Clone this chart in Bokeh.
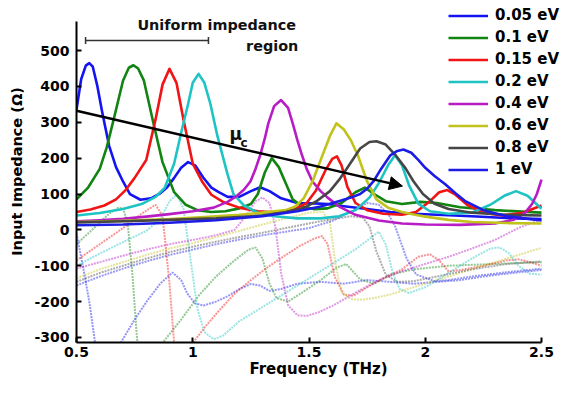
from bokeh.plotting import figure
from bokeh.models import Range1d, Legend, LegendItem, Label, Arrow, NormalHead, FixedTicker
from bokeh.embed import file_html
from bokeh.resources import INLINE

FONT = "DejaVu Sans"

# ---------------- data ----------------
series_labels = ["0.05 eV", "0.1 eV", "0.15 eV", "0.2 eV", "0.4 eV", "0.6 eV", "0.8 eV", "1 eV"]
series_colors = ["#1414f0", "#128412", "#f01414", "#1ec4c4", "#b81cc4", "#c2c21c", "#464646", "#1c1ce6"]

# Real part (solid lines)
f_re_005 = [0.5, 0.52, 0.54, 0.555, 0.57, 0.59, 0.61, 0.64, 0.67, 0.70, 0.73, 0.775, 0.82, 0.86, 0.89, 0.92, 0.95, 0.98, 1.01, 1.045,
            1.08, 1.11, 1.15, 1.2, 1.25, 1.29, 1.33, 1.38, 1.45, 1.52, 1.58, 1.65, 1.75, 1.85, 1.95, 2.05, 2.2, 2.35, 2.5]
re_005 = [335, 420, 458, 465, 455, 400, 330, 235, 175, 135, 100, 84, 88, 102, 119, 145, 173, 189, 180, 146,
          118, 106, 92, 92, 108, 119, 108, 88, 75, 74, 72, 66, 58, 50, 45, 42, 38, 33, 30]

f_re_01 = [0.5, 0.55, 0.6, 0.63, 0.66, 0.7, 0.725, 0.745, 0.765, 0.79, 0.83, 0.87, 0.92, 0.97, 1.02, 1.08, 1.14, 1.2, 1.25, 1.28,
           1.31, 1.34, 1.37, 1.4, 1.43, 1.47, 1.52, 1.58, 1.64, 1.7, 1.74, 1.78, 1.83, 1.9, 1.98, 2.05, 2.15, 2.3, 2.5]
re_01 = [85, 118, 170, 230, 308, 416, 452, 459, 450, 416, 300, 189, 105, 70, 55, 50, 52, 60, 72, 100,
         160, 200, 175, 130, 85, 65, 58, 60, 75, 105, 118, 100, 80, 72, 78, 75, 63, 55, 48]

f_re_015 = [0.5, 0.56, 0.62, 0.67, 0.71, 0.75, 0.8, 0.84, 0.87, 0.9, 0.93, 0.96, 1.0, 1.04, 1.08, 1.13, 1.2, 1.28, 1.36, 1.43,
            1.49, 1.53, 1.57, 1.6, 1.62, 1.64, 1.665, 1.7, 1.75, 1.82, 1.9, 1.96, 2.02, 2.06, 2.095, 2.13, 2.18, 2.25, 2.33, 2.42, 2.5]
re_015 = [50, 57, 68, 85, 110, 145, 195, 308, 405, 449, 410, 308, 185, 135, 98, 78, 62, 52, 48, 55,
          75, 110, 165, 198, 205, 180, 120, 75, 55, 45, 42, 50, 80, 105, 111, 98, 70, 48, 40, 48, 68]

f_re_02 = [0.5, 0.6, 0.7, 0.78, 0.84, 0.88, 0.92, 0.95, 0.98, 1.0, 1.025, 1.05, 1.076, 1.106, 1.15, 1.175, 1.22, 1.28, 1.35, 1.45,
           1.55, 1.63, 1.7, 1.76, 1.8, 1.84, 1.87, 1.9, 1.93, 1.97, 2.02, 2.1, 2.2, 2.28, 2.34, 2.39, 2.44, 2.5]
re_02 = [40, 47, 58, 72, 92, 118, 185, 270, 351, 410, 435, 410, 351, 262, 154, 100, 68, 48, 38, 32,
         32, 38, 55, 90, 130, 180, 208, 180, 125, 73, 52, 45, 48, 70, 95, 108, 95, 59]

f_re_04 = [0.5, 0.6, 0.7, 0.8, 0.9, 1.0, 1.09, 1.15, 1.19, 1.22, 1.248, 1.27, 1.29, 1.31, 1.325, 1.35, 1.38, 1.41, 1.43, 1.45,
           1.47, 1.49, 1.515, 1.55, 1.58, 1.63, 1.7, 1.8, 1.9, 2.0, 2.15, 2.3, 2.38, 2.43, 2.46, 2.48, 2.5]
re_04 = [24, 27, 31, 37, 44, 52, 62, 78, 95, 112, 135, 170, 208, 255, 297, 345, 362, 340, 297, 250,
         208, 170, 135, 108, 90, 65, 42, 26, 18, 15, 14, 18, 28, 48, 73, 100, 140]

f_re_06 = [0.5, 0.7, 0.9, 1.05, 1.2, 1.3, 1.4, 1.44, 1.477, 1.515, 1.558, 1.59, 1.618, 1.65, 1.68, 1.71, 1.75, 1.79, 1.84, 1.9,
           1.95, 2.0, 2.1, 2.2, 2.35, 2.5]
re_06 = [22, 25, 30, 36, 42, 48, 55, 65, 88, 135, 208, 262, 297, 280, 250, 208, 135, 85, 62, 50,
         43, 37, 28, 22, 19, 18]

f_re_08 = [0.5, 0.7, 0.9, 1.1, 1.3, 1.4, 1.48, 1.535, 1.59, 1.63, 1.665, 1.72, 1.76, 1.79, 1.83, 1.87, 1.914, 1.95, 1.99, 2.04,
           2.1, 2.2, 2.35, 2.5]
re_08 = [21, 24, 28, 32, 40, 50, 62, 81, 108, 140, 173, 227, 245, 247, 238, 210, 173, 135, 100, 73,
         58, 48, 42, 40]

f_re_1 = [0.5, 0.7, 0.9, 1.1, 1.3, 1.45, 1.55, 1.635, 1.68, 1.72, 1.75, 1.777, 1.81, 1.85, 1.88, 1.906, 1.94, 1.97, 2.0, 2.04,
          2.086, 2.13, 2.17, 2.25, 2.35, 2.5]
re_1 = [13, 15, 20, 27, 38, 52, 65, 81, 90, 100, 115, 135, 170, 208, 220, 224, 215, 195, 173, 150,
        127, 102, 81, 55, 38, 26]

# Imaginary part (dotted lines)
f_im_005 = [0.5, 0.53, 0.555, 0.58, 0.6, 0.67, 0.69, 0.75, 0.805, 0.86, 0.913, 0.95, 0.977, 1.01, 1.046, 1.1, 1.15, 1.2, 1.25, 1.29,
            1.33, 1.38, 1.45, 1.55, 1.65, 1.75, 1.85, 1.95, 2.05, 2.15, 2.25, 2.35, 2.45, 2.5]
im_005 = [-10, -110, -200, -315, -400, -400, -315, -250, -197, -150, -119, -140, -178, -205, -211, -200, -185, -165, -151, -155,
          -170, -165, -150, -145, -150, -140, -145, -150, -145, -140, -130, -122, -115, -112]

f_im_01 = [0.5, 0.55, 0.6, 0.64, 0.68, 0.7, 0.72, 0.74, 0.76, 0.78, 0.84, 0.87, 0.95, 1.03, 1.1, 1.18, 1.24, 1.27, 1.3, 1.33,
           1.36, 1.41, 1.47, 1.55, 1.62, 1.66, 1.72, 1.78, 1.85, 1.95, 2.1, 2.3, 2.5]
im_01 = [-40, -10, 20, 45, 62, 60, 20, -120, -300, -420, -420, -315, -250, -180, -130, -85, -55, -49, -80, -150,
         -190, -200, -175, -140, -105, -95, -138, -150, -125, -110, -100, -95, -90]

f_im_015 = [0.5, 0.6, 0.7, 0.78, 0.84, 0.87, 0.9, 0.93, 1.0, 1.06, 1.12, 1.18, 1.25, 1.32, 1.4, 1.46, 1.52, 1.556, 1.58, 1.61,
            1.65, 1.69, 1.75, 1.82, 1.9, 1.97, 2.02, 2.06, 2.1, 2.15, 2.25, 2.35, 2.4, 2.45, 2.5]
im_015 = [-85, -40, 5, 45, 70, 40, -150, -400, -315, -265, -220, -178, -140, -105, -70, -45, -25, -17, -40, -130,
          -180, -184, -160, -135, -110, -75, -68, -85, -116, -112, -100, -85, -82, -90, -100]

f_im_02 = [0.5, 0.6, 0.7, 0.8, 0.86, 0.9, 0.93, 0.96, 0.99, 1.02, 1.05, 1.09, 1.13, 1.2, 1.3, 1.4, 1.5, 1.6, 1.7, 1.76,
           1.8, 1.83, 1.86, 1.89, 1.93, 2.0, 2.1, 2.2, 2.28, 2.32, 2.36, 2.4, 2.45, 2.5]
im_02 = [-100, -66, -34, -3, 30, 80, 98, 60, -80, -220, -285, -305, -295, -255, -215, -175, -135, -95, -54, -25,
         -5, -40, -120, -165, -176, -160, -120, -80, -52, -49, -65, -100, -122, -125]

f_im_04 = [0.5, 0.6, 0.7, 0.8, 0.9, 1.0, 1.1, 1.18, 1.23, 1.27, 1.3, 1.33, 1.355, 1.38, 1.41, 1.45, 1.49, 1.54, 1.6, 1.7,
           1.8, 1.9, 2.0, 2.1, 2.2, 2.3, 2.4, 2.5]
im_04 = [-108, -90, -72, -55, -40, -28, -15, 0, 40, 80, 90, 75, 10, -120, -210, -238, -240, -230, -212, -175,
         -140, -115, -95, -75, -52, -28, 5, 30]

f_im_06 = [0.5, 0.6, 0.7, 0.8, 0.9, 1.0, 1.1, 1.2, 1.3, 1.4, 1.5, 1.56, 1.59, 1.615, 1.64, 1.68, 1.72, 1.78, 1.85, 1.95,
           2.05, 2.2, 2.35, 2.5]
im_06 = [-135, -110, -90, -70, -52, -37, -20, -3, 15, 32, 48, 50, 20, -100, -175, -193, -195, -190, -180, -160,
         -140, -110, -80, -50]

f_im_08 = [0.5, 0.6, 0.7, 0.8, 0.9, 1.0, 1.1, 1.2, 1.3, 1.4, 1.5, 1.6, 1.68, 1.73, 1.76, 1.79, 1.83, 1.88, 1.95, 2.05,
           2.2, 2.35, 2.5]
im_08 = [-145, -120, -100, -80, -62, -47, -33, -20, -8, 5, 18, 30, 38, 35, 10, -60, -125, -145, -143, -130,
         -110, -95, -88]

f_im_1 = [0.5, 0.6, 0.7, 0.8, 0.9, 1.0, 1.1, 1.2, 1.3, 1.4, 1.5, 1.6, 1.68, 1.75, 1.8, 1.84, 1.87, 1.92, 1.96, 2.04,
          2.1, 2.2, 2.35, 2.5]
im_1 = [-155, -130, -108, -88, -70, -55, -40, -27, -15, -5, 5, 25, 50, 75, 70, 45, 11, -80, -124, -143,
        -140, -130, -118, -108]

x_ticks = [0.5, 1, 1.5, 2, 2.5]
x_tick_labels = ["0.5", "1", "1.5", "2", "2.5"]
y_ticks = [-300, -200, -100, 0, 100, 200, 300, 400, 500]
y_tick_labels = ["-300", "-200", "-100", "0", "100", "200", "300", "400", "500"]

re_f = [f_re_005, f_re_01, f_re_015, f_re_02, f_re_04, f_re_06, f_re_08, f_re_1]
re_v = [re_005, re_01, re_015, re_02, re_04, re_06, re_08, re_1]
im_f = [f_im_005, f_im_01, f_im_015, f_im_02, f_im_04, f_im_06, f_im_08, f_im_1]
im_v = [im_005, im_01, im_015, im_02, im_04, im_06, im_08, im_1]

# ---------------- layout geometry ----------------
W, H = 560, 380
LEFT, BOTTOM = 76, 38               # side panels (px)
X_AXIS = (0.5, 2.5)                 # drawn extent of the x axis
Y_AXIS = (-314, 581)                # drawn extent of the y axis
X_AXIS_END_PX = 541                 # where 2.5 THz sits
Y_AXIS_TOP_PX = 21                  # where the y axis line starts
frame_w = W - LEFT
frame_h = H - BOTTOM
x_scale = (X_AXIS_END_PX - LEFT) / (X_AXIS[1] - X_AXIS[0])
y_scale = (frame_h - Y_AXIS_TOP_PX) / (Y_AXIS[1] - Y_AXIS[0])
x_end = X_AXIS[0] + frame_w / x_scale
y_end = Y_AXIS[0] + frame_h / y_scale

p = figure(width=W, height=H, output_backend="svg", toolbar_location=None,
           x_range=Range1d(X_AXIS[0], x_end), y_range=Range1d(Y_AXIS[0], y_end),
           min_border_left=LEFT, min_border_right=0, min_border_top=0, min_border_bottom=BOTTOM)
p.outline_line_color = None
p.grid.visible = False
p.background_fill_color = "white"

for f, v, c in zip(im_f, im_v, series_colors):
    p.line(f, v, line_color=c, line_width=2, line_alpha=0.45, line_dash="2 1")

solid = []
for f, v, c in zip(re_f, re_v, series_colors):
    r = p.line(f, v, line_color=c, line_width=2.6, line_join="round")
    solid.append(r)

# axes
for ax in (p.xaxis[0], p.yaxis[0]):
    ax.axis_line_width = 2
    ax.axis_line_color = "black"
    ax.major_tick_in = 5
    ax.major_tick_out = 0
    ax.major_tick_line_width = 2
    ax.minor_tick_line_color = None
    ax.major_label_text_font = FONT
    ax.major_label_text_font_style = "bold"
    ax.major_label_text_font_size = "14px"
    ax.major_label_text_color = "black"
    ax.axis_label_text_font = FONT
    ax.axis_label_text_font_style = "bold"
    ax.axis_label_text_color = "black"

p.xaxis[0].bounds = X_AXIS
p.xaxis[0].ticker = FixedTicker(ticks=x_ticks)
p.xaxis[0].major_label_overrides = dict(zip(x_ticks, x_tick_labels))
p.xaxis[0].axis_label = "Frequency (THz)"
p.xaxis[0].axis_label_text_font_size = "15px"
p.xaxis[0].major_label_standoff = 4
p.xaxis[0].axis_label_standoff = 0

p.yaxis[0].bounds = Y_AXIS
p.yaxis[0].ticker = FixedTicker(ticks=y_ticks)
p.yaxis[0].major_label_overrides = dict(zip(y_ticks, y_tick_labels))
p.yaxis[0].axis_label = "Input Impedance (Ω)"
p.yaxis[0].axis_label_text_font_size = "14.5px"
p.yaxis[0].major_label_standoff = 7
p.yaxis[0].axis_label_standoff = 6

# bracket "Uniform impedance region"
p.line([0.539, 1.0675], [528, 528], line_color="#333333", line_width=1.5)
p.segment(x0=[0.539, 1.0675], y0=[518, 518], x1=[0.539, 1.0675], y1=[538, 538],
          line_color="#333333", line_width=1.5)

label_style = dict(text_font=FONT, text_font_style="bold", text_color="#111111")
p.add_layout(Label(x=0.762, y=570, text="Uniform impedance", text_font_size="14.4px",
                   text_align="left", text_baseline="alphabetic", **label_style))
p.add_layout(Label(x=1.454, y=513, text="region", text_font_size="14.4px",
                   text_align="right", text_baseline="alphabetic", **label_style))

# arrow mu_c
p.add_layout(Arrow(x_start=0.5, y_start=332, x_end=1.902, y_end=122,
                   line_color="black", line_width=2.5,
                   end=NormalHead(size=13, fill_color="black", line_color="black")))
p.add_layout(Label(x=1.158, y=266, text="μ", text_font_size="17px",
                   text_align="left", text_baseline="alphabetic", **label_style))
p.add_layout(Label(x=1.205, y=242, text="c", text_font_size="12px",
                   text_align="left", text_baseline="alphabetic", **label_style))

# legend: (x, y) = offset of its bottom-left corner from the frame's bottom-left, in px
legend = Legend(items=[LegendItem(label=l, renderers=[r]) for l, r in zip(series_labels, solid)],
                location=(372, frame_h - 178), padding=0, margin=0, spacing=4,
                glyph_width=40, glyph_height=17, label_height=17, label_standoff=7,
                label_text_font=FONT, label_text_font_style="bold", label_text_font_size="15px",
                label_text_color="black", border_line_color=None, background_fill_alpha=0)
p.add_layout(legend)

open("out.html", "w").write(file_html(p, INLINE))
